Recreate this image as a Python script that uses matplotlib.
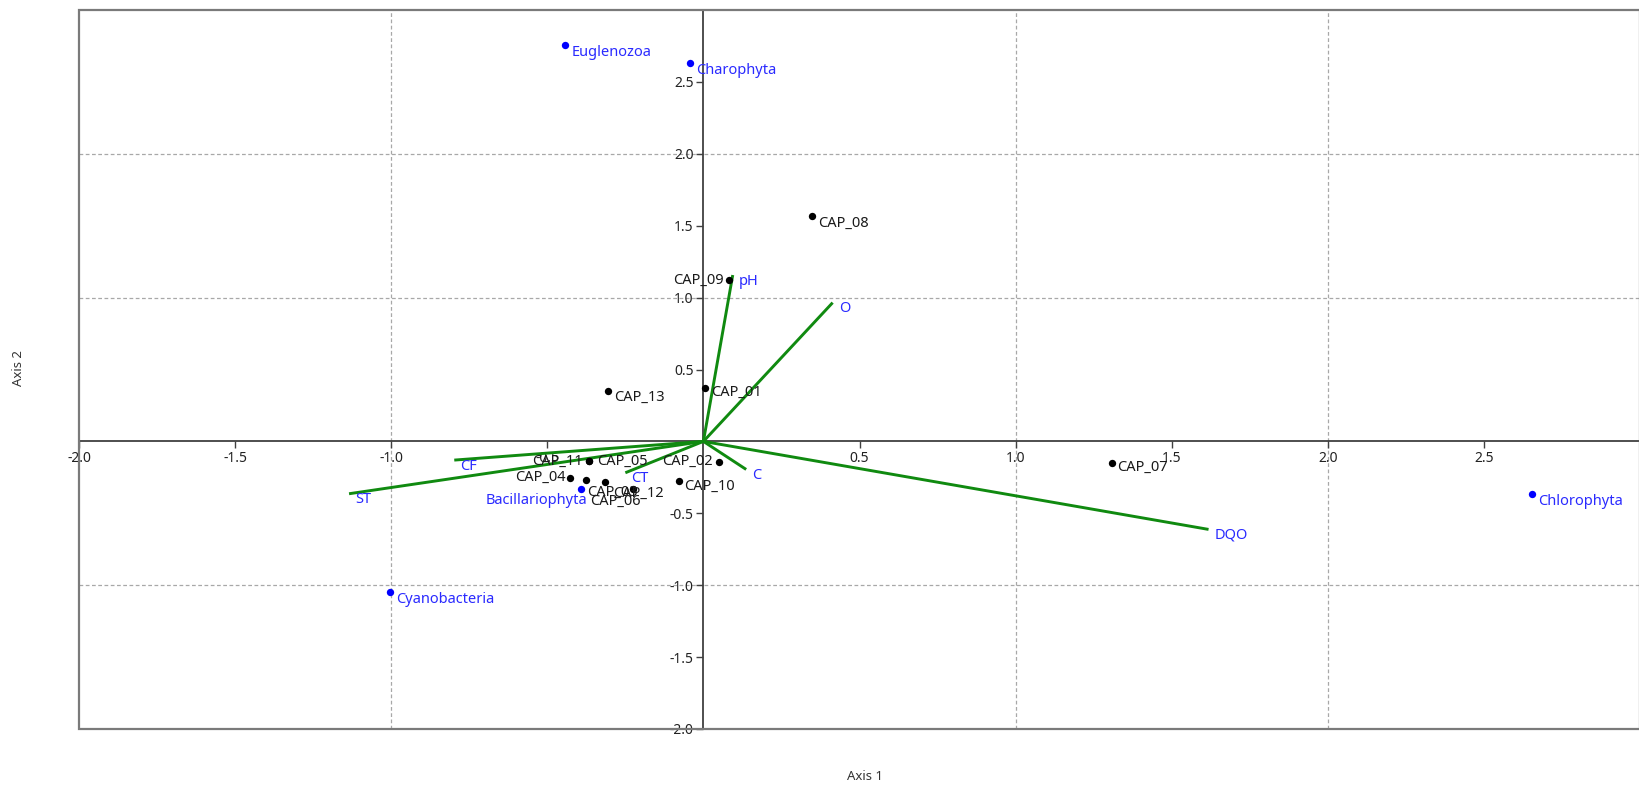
import numpy as np
import matplotlib.pyplot as plt
from matplotlib.patches import Rectangle

plt.rcParams['font.family'] = ['Noto Sans', 'DejaVu Sans']

# ---- data ----
sites = ["CAP_01", "CAP_02", "CAP_03", "CAP_04", "CAP_05", "CAP_06", "CAP_07",
         "CAP_08", "CAP_09", "CAP_10", "CAP_11", "CAP_12", "CAP_13"]
site_x = [0.006, 0.049, -0.376, -0.427, -0.365, -0.227, 1.308,
          0.348, 0.083, -0.079, -0.365, -0.315, -0.304]
site_y = [0.370, -0.141, -0.271, -0.253, -0.137, -0.334, -0.148,
          1.568, 1.123, -0.277, -0.137, -0.283, 0.348]

taxa = ["Euglenozoa", "Charophyta", "Chlorophyta", "Cyanobacteria", "Bacillariophyta"]
taxa_x = [-0.442, -0.043, 2.653, -1.003, -0.391]
taxa_y = [2.756, 2.628, -0.369, -1.049, -0.334]

env = ["pH", "O", "C", "DQO", "CT", "CF", "ST"]
env_x = [0.094, 0.414, 0.137, 1.618, -0.250, -0.798, -1.135]
env_y = [1.157, 0.965, -0.195, -0.612, -0.218, -0.130, -0.364]

xticks = [-2.0, -1.5, -1.0, -0.5, 0.5, 1.0, 1.5, 2.0, 2.5]
yticks = [-2.0, -1.5, -1.0, -0.5, 0.5, 1.0, 1.5, 2.0, 2.5]
grid_x = [-1.0, 1.0, 2.0]
grid_y = [-1.0, 1.0, 2.0]

# label placement (pixel offsets, horizontal alignment) to mimic the original
site_lab = {
    "CAP_01": (6, -4, 'left'), "CAP_02": (-6, 0, 'right'), "CAP_03": (1, -12, 'left'),
    "CAP_04": (-4, 0, 'right'), "CAP_05": (8, 0, 'left'), "CAP_06": (-42, -12, 'left'),
    "CAP_07": (5, -5, 'left'), "CAP_08": (6, -7, 'left'), "CAP_09": (-6, 0, 'right'),
    "CAP_10": (5, -5, 'left'), "CAP_11": (-7, 0, 'right'), "CAP_12": (8, -11, 'left'),
    "CAP_13": (6, -6, 'left'),
}
taxa_lab = {"Bacillariophyta": (6, -11, 'right')}

LAB_FS = 10.5

W, H = 1639, 785
fig = plt.figure(figsize=(W / 100, H / 100), dpi=100)
ax = fig.add_axes([79 / W, 1 - 729 / H, (1640 - 79) / W, (729 - 10) / H])
ax.set_xlim(-2, 3)
ax.set_ylim(-2, 3)

# axes through the origin
for s in ['top', 'right']:
    ax.spines[s].set_visible(False)
ax.spines['left'].set_position(('data', 0))
ax.spines['bottom'].set_position(('data', 0))
for s in ['left', 'bottom']:
    ax.spines[s].set_color('#404040')
    ax.spines[s].set_linewidth(1.3)
ax.add_patch(Rectangle((0, 0), 1, 1, transform=ax.transAxes, fill=False,
                       edgecolor='#7a7a7a', lw=1.6, clip_on=False, zorder=5))

ax.set_xticks(xticks)
ax.set_yticks(yticks)
ax.set_xticklabels([f"{v:.1f}" for v in xticks])
ax.set_yticklabels([f"{v:.1f}" for v in yticks])
ax.tick_params(direction='out', length=5, width=1, color='#404040',
               labelsize=10, labelcolor='#222222', pad=2)

for gx in grid_x:
    ax.axvline(gx, color='#a8a8a8', lw=0.9, ls=(0, (3, 2)), zorder=0)
for gy in grid_y:
    ax.axhline(gy, color='#a8a8a8', lw=0.9, ls=(0, (3, 2)), zorder=0)

# environmental vectors
for name, ex, ey in zip(env, env_x, env_y):
    ax.plot([0, ex], [0, ey], color='#108a10', lw=2.1, zorder=3, solid_capstyle='butt')
    ax.annotate(name, (ex, ey), xytext=(6, -6), textcoords='offset pixels',
                ha='left', va='center', color='#2a2aff', fontsize=LAB_FS)

# sites
ax.scatter(site_x, site_y, s=28, color='black', zorder=4, linewidths=0)
for name, sx, sy in zip(sites, site_x, site_y):
    dx, dy, ha = site_lab[name]
    ax.annotate(name, (sx, sy), xytext=(dx, dy), textcoords='offset pixels',
                ha=ha, va='center', color='#1a1a1a', fontsize=LAB_FS, zorder=6)

# taxa
ax.scatter(taxa_x, taxa_y, s=28, color='#0000ff', zorder=4, linewidths=0)
for name, tx, ty in zip(taxa, taxa_x, taxa_y):
    dx, dy, ha = taxa_lab.get(name, (6, -7, 'left'))
    ax.annotate(name, (tx, ty), xytext=(dx, dy), textcoords='offset pixels',
                ha=ha, va='center', color='#2a2aff', fontsize=LAB_FS, zorder=6)

fig.text(865 / W, 1 - 777 / H, "Axis 1", ha='center', va='center',
         fontsize=9.5, color='#333333')
fig.text(19 / W, 1 - 368 / H, "Axis 2", ha='center', va='center',
         rotation=90, fontsize=9.5, color='#333333')

fig.savefig("out.png", dpi=100)
